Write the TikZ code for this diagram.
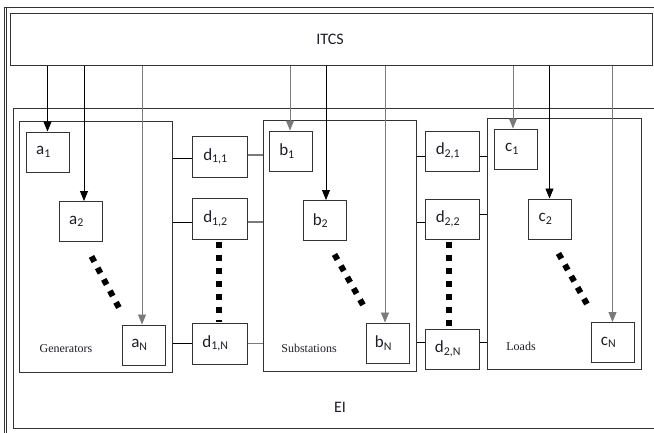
\documentclass[tikz,border=0pt]{standalone}
\usepackage{fontspec}
\setmainfont{Liberation Serif}
\newfontfamily\calfont{Carlito}
\usetikzlibrary{arrows.meta,calc}
\definecolor{boxc}{HTML}{333333}
\definecolor{greyc}{HTML}{7A7A7A}
\definecolor{txtc}{HTML}{1E1E28}
\begin{document}
\begin{tikzpicture}[x=1pt,y=-1pt,
  box/.style={draw=boxc,line width=1pt,inner sep=0pt,text=txtc,
    font=\calfont\fontsize{17}{20}\selectfont,minimum width=43pt,minimum height=40pt,
    execute at end node={\hspace*{8pt}}},
  dbox/.style={box,minimum width=55pt,minimum height=41pt},
  grp/.style={draw=boxc,line width=1pt,inner sep=0pt,minimum width=153pt,minimum height=251pt},
  frame/.style={draw=boxc,line width=1pt},
  grplabel/.style={font=\fontsize{12}{14}\selectfont,text=txtc,inner sep=0pt},
  biglabel/.style={font=\calfont\fontsize{16}{19}\selectfont,text=txtc,inner sep=0pt},
  arr/.style={draw=black,line width=0.8pt,-{Triangle[width=8pt,length=10pt]}},
  garr/.style={arr,draw=greyc},
  conn/.style={draw=black,line width=0.9pt},
  gconn/.style={draw=greyc,line width=1.2pt},
  dotsq/.style={draw=black,line width=6pt,dash pattern=on 6pt off 7pt}]
\clip (0,0) rectangle (654,432);
\fill[white] (0,0) rectangle (654,432);
% outer frame
\draw[frame] (4,7) rectangle (700,470);
\draw[frame] (6.5,7) -- (6.5,470);
% ITCS and EI
\node[draw=boxc,line width=1pt,minimum width=642.5pt,minimum height=52pt,inner sep=0pt] (itcs) at (331.25,39) {};
\node[biglabel] (itcstext) at (330,39) {ITCS};
\node[draw=boxc,line width=1pt,minimum width=687pt,minimum height=320pt,inner sep=0pt] (ei) at (356.5,268) {};
\node[biglabel] (eitext) at (340,407) {EI};
% groups
\node[grp] (gen) at (95.5,246.5) {};
\node[grp] (sub) at (339.5,245.5) {};
\node[grp,minimum width=154pt] (loads) at (564,243.5) {};
\node[grplabel] (genl) at (66,349) {Generators};
\node[grplabel] (subl) at (309,348) {Substations};
\node[grplabel] (loadl) at (521,346) {Loads};
% element boxes
\node[box] (a1) at (47.5,152) {a\textsubscript{1}};
\node[box] (a2) at (80.5,221.5) {a\textsubscript{2}};
\node[box] (aN) at (143.5,345) {a\textsubscript{N}};
\node[box] (b1) at (291,151) {b\textsubscript{1}};
\node[box] (b2) at (324.5,220.5) {b\textsubscript{2}};
\node[box] (bN) at (387.5,343) {b\textsubscript{N}};
\node[box] (c1) at (516,149) {c\textsubscript{1}};
\node[box] (c2) at (549.5,219) {c\textsubscript{2}};
\node[box] (cN) at (612.5,342.5) {c\textsubscript{N}};
\node[dbox] (d11) at (219.5,156.5) {d\textsubscript{1,1}};
\node[dbox] (d12) at (219.5,219) {d\textsubscript{1,2}};
\node[dbox] (d1N) at (219.5,343.5) {d\textsubscript{1,N}};
\node[dbox,minimum width=54pt,minimum height=40pt] (d21) at (452,151) {d\textsubscript{2,1}};
\node[dbox,minimum width=54pt,minimum height=40pt] (d22) at (452,219) {d\textsubscript{2,2}};
\node[dbox,minimum width=54pt,minimum height=40pt] (d2N) at (452,349) {d\textsubscript{2,N}};
% arrows from ITCS
\draw[arr] (itcs.south -| a1.north) -- (a1.north);
\draw[arr] ([xshift=3.5pt]a2.north |- itcs.south) -- ([xshift=3.5pt]a2.north);
\draw[garr] ([xshift=-1.5pt]aN.north |- itcs.south) -- ([xshift=-1.5pt]aN.north);
\draw[garr] ([xshift=-1pt]b1.north |- itcs.south) -- ([xshift=-1pt]b1.north);
\draw[arr] ([xshift=1.5pt]b2.north |- itcs.south) -- ([xshift=1.5pt]b2.north);
\draw[garr] ([xshift=-2.5pt]bN.north |- itcs.south) -- ([xshift=-2.5pt]bN.north);
\draw[garr] ([xshift=-3pt]c1.north |- itcs.south) -- ([xshift=-3pt]c1.north);
\draw[arr] (itcs.south -| c2.north) -- (c2.north);
\draw[garr] (itcs.south -| cN.north) -- (cN.north);
% connector end points on the d boxes
\coordinate (p11w) at ($(d11.west)+(0,1.5)$);
\coordinate (p11e) at ($(d11.east)+(0,-1.5)$);
\coordinate (p12w) at ($(d12.west)+(0,3)$);
\coordinate (p12e) at ($(d12.east)+(0,3)$);
\coordinate (p21w) at ($(d21.west)+(0,5)$);
\coordinate (p21e) at ($(d21.east)+(0,5)$);
\coordinate (p22w) at ($(d22.west)+(0,3)$);
\coordinate (p22e) at ($(d22.east)+(0,-5)$);
\coordinate (p2Nw) at ($(d2N.west)+(0,-7)$);
\coordinate (p2Ne) at ($(d2N.east)+(0,-7)$);
% connectors
\draw[conn] (p11w) -- (p11w -| gen.east);
\draw[gconn] (p11e) -- (p11e -| sub.west);
\draw[conn] (p12w) -- (p12w -| gen.east);
\draw[gconn] (p12e) -- (p12e -| sub.west);
\draw[conn] (d1N.west) -- (d1N.west -| gen.east);
\draw[gconn] (d1N.east) -- (d1N.east -| sub.west);
\draw[conn] (p21w) -- (p21w -| sub.east);
\draw[conn] (p21e) -- (p21e -| loads.west);
\draw[conn] (p22w) -- (p22w -| sub.east);
\draw[conn] (p22e) -- (p22e -| loads.west);
\draw[conn] (p2Nw) -- (p2Nw -| sub.east);
\draw[conn] (p2Ne) -- (p2Ne -| loads.west);
% dotted continuations
\draw[dotsq] (91.5,256.4) -- (120.5,310.6);
\draw[dotsq] (334.5,254.4) -- (364.5,307.6);
\draw[dotsq] (558.5,253.4) -- (589.5,308.6);
\draw[dotsq] (218.5,242) -- (218.5,322);
\draw[dotsq] (449,242) -- (449,328);
\end{tikzpicture}
\end{document}
